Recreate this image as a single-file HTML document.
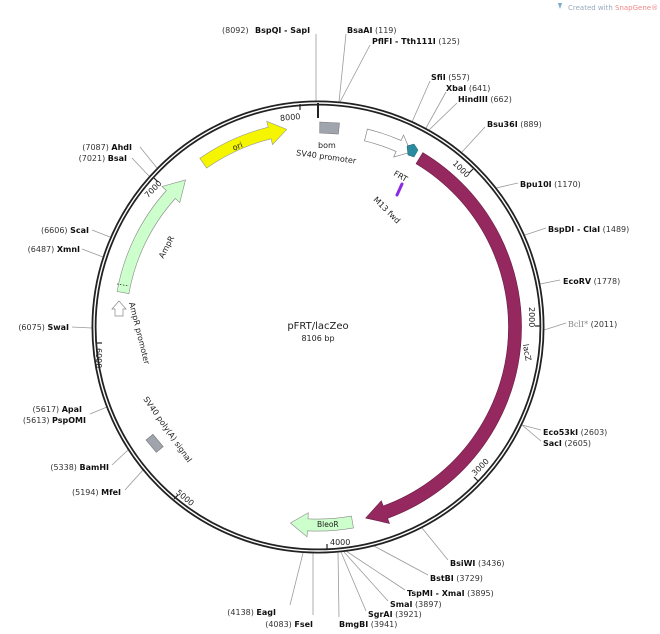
<!DOCTYPE html>
<html><head><meta charset="utf-8"><style>
html,body{margin:0;padding:0;background:#fff;width:660px;height:634px;overflow:hidden}
svg{display:block}
text{font-family:"DejaVu Sans","Liberation Sans",sans-serif;font-size:8px;fill:#222}
.n{font-weight:bold;fill:#111}
.p{fill:#333}
.ln{stroke:#999;stroke-width:0.8;fill:none}
</style></head><body>
<svg width="660" height="634" viewBox="0 0 660 634">
<text x="568" y="10" style="font-size:7px;fill:#9ab">Created with <tspan fill="#e88">SnapGene®</tspan></text>
<path d="M558 3 l4 0 l-2 6z" fill="#7ac"/>

<g class="ln">
<line x1="316" y1="101" x2="316" y2="34"/>
<line x1="339" y1="102" x2="346" y2="34"/>
<line x1="340" y1="102" x2="370" y2="45"/>
<line x1="412" y1="122" x2="430" y2="81"/>
<line x1="426" y1="128" x2="446" y2="92"/>
<line x1="429" y1="130" x2="457" y2="103"/>
<line x1="462" y1="152" x2="485" y2="127"/>
<line x1="496" y1="188" x2="518" y2="183"/>
<line x1="525" y1="235" x2="546" y2="228"/>
<line x1="540" y1="284" x2="560" y2="280"/>
<line x1="544" y1="330" x2="566" y2="323"/>
<line x1="522" y1="425" x2="541" y2="430"/>
<line x1="522" y1="425" x2="541" y2="441"/>
<line x1="422" y1="528" x2="448" y2="560"/>
<line x1="374" y1="546" x2="428" y2="575"/>
<line x1="346" y1="551" x2="405" y2="590"/>
<line x1="344" y1="552" x2="388" y2="601"/>
<line x1="341" y1="552" x2="366" y2="611"/>
<line x1="338" y1="552" x2="339" y2="617"/>
<line x1="313" y1="553" x2="313" y2="615"/>
<line x1="303" y1="553" x2="290" y2="605"/>
<line x1="143" y1="470" x2="125" y2="490"/>
<line x1="128" y1="450" x2="112" y2="465"/>
<line x1="107" y1="407" x2="90" y2="414"/>
<line x1="92" y1="328" x2="72" y2="327"/>
<line x1="103" y1="257" x2="82" y2="249"/>
<line x1="110" y1="237" x2="92" y2="230"/>
<line x1="149" y1="176" x2="132" y2="158"/>
<line x1="157" y1="168" x2="140" y2="147"/>
</g>

<circle cx="318" cy="327" r="224" fill="none" stroke="#222" stroke-width="5"/>
<circle cx="318" cy="327" r="224" fill="none" stroke="#fff" stroke-width="1.4"/>

<g stroke="#222" stroke-width="1.2">
<line x1="318" y1="103" x2="318" y2="118" stroke-width="2"/>
<line x1="473" y1="169" x2="469" y2="173"/>
<line x1="541" y1="326" x2="535" y2="326"/>
<line x1="478" y1="481" x2="474" y2="477"/>
<line x1="327" y1="550" x2="327" y2="544"/>
<line x1="174" y1="499" x2="178" y2="495"/>
<line x1="96" y1="343" x2="102" y2="343"/>
<line x1="154" y1="178" x2="158" y2="182"/>
<line x1="300" y1="104" x2="300" y2="110"/>
</g>
<text x="280" y="120" style="font-size:8px" transform="rotate(-5 290 117)">8000</text>
<text x="452" y="172" style="font-size:8px" transform="rotate(45 462 168)">1000</text>
<text x="524" y="318" style="font-size:8px" transform="rotate(90 532 315)">2000</text>
<text x="470" y="470" style="font-size:8px" transform="rotate(-45 480 467)">3000</text>
<text x="330" y="545" style="font-size:8px">4000</text>
<text x="176" y="500" style="font-size:8px" transform="rotate(40 185 496)">5000</text>
<text x="96" y="360" style="font-size:8px" transform="rotate(90 102 354)">6000</text>
<text x="142" y="194" style="font-size:8px" transform="rotate(-45 150 189)">7000</text>

<path d="M422.8 152.6 A203.5 203.5 0 0 1 387.6 518.3 L389.5 523.4 L365.7 518.1 L381.3 500.8 L383.2 506 A190.5 190.5 0 0 0 416.1 163.7 Z" fill="#95285f" stroke="#6a1a44" stroke-width="0.6"/>
<path d="M199.8 158.3 A206 206 0 0 1 268.2 127.2 L266.7 121.3 L286.8 129.4 L272.5 144.6 L271.1 138.8 A194 194 0 0 0 206.6 168.1 Z" fill="#f5f500" stroke="#999" stroke-width="0.6"/>
<path d="M117.1 291.5 A204 204 0 0 1 166.4 190.5 L162 186.5 L185.5 179.9 L179.8 202.6 L175.3 198.5 A192 192 0 0 0 128.9 293.6 Z" fill="#ccffcc" stroke="#888" stroke-width="0.6"/>
<line x1="117" y1="284" x2="129" y2="286" stroke="#333" stroke-width="0.8" stroke-dasharray="1.5 1.5"/>
<path d="M115 316 L115 309 L112 309 L119 301 L126 309 L123 309 L123 316 Z" fill="#fff" stroke="#888" stroke-width="0.7"/>
<path d="M367.4 129.1 A204 204 0 0 1 401 140.5 L403.5 135.1 L410.9 152.2 L393.7 157 L396.1 151.5 A192 192 0 0 0 364.5 140.8 Z" fill="#fff" stroke="#888" stroke-width="0.7"/>
<path d="M407 146 L414 144 L418 150 L414 157 L408 155 Z" fill="#2a8a9e" stroke="#1b5f6e" stroke-width="0.5"/>
<path d="M319.8 122 L339.5 123 L338.3 134 L319.7 133 Z" fill="#a0a4ac" stroke="#777" stroke-width="0.6"/>
<path d="M353.5 527.9 A204 204 0 0 1 307.4 530.8 L307 536.8 L290.4 523 L308.3 512.8 L308 518.8 A192 192 0 0 0 351.4 516.1 Z" fill="#ccffcc" stroke="#888" stroke-width="0.6"/>
<rect x="147" y="439" width="16" height="9" fill="#a0a4ac" stroke="#777" stroke-width="0.6" transform="rotate(50 155 443)"/>
<line x1="402" y1="184" x2="397" y2="195" stroke="#8a2be2" stroke-width="3" stroke-linecap="round"/>

<text x="232" y="148" transform="rotate(-22 240 145)">ori</text>
<text x="318" y="148">bom</text>
<text x="296" y="160" transform="rotate(8 330 157)">SV40 promoter</text>
<text x="393" y="175" transform="rotate(30 393 175)">FRT</text>
<text x="373" y="200" transform="rotate(45 373 200)">M13 fwd</text>
<text x="152" y="250" transform="rotate(-62 165 245)">AmpR</text>
<text x="129" y="303" transform="rotate(76 129 303)">AmpR promoter</text>
<text x="143" y="399" transform="rotate(55 143 399)">SV40 poly(A) signal</text>
<text x="509" y="343" transform="rotate(80 515 352)">lacZ</text>
<text x="317" y="527" style="font-size:7.5px">BleoR</text>

<text x="318" y="329" text-anchor="middle" style="font-size:10px">pFRT/lacZeo</text>
<text x="318" y="341" text-anchor="middle" style="font-size:8px">8106 bp</text>

<text x="222" y="33" class="p">(8092)</text><text x="255" y="33" class="n">BspQI - SapI</text>
<text x="347" y="33"><tspan class="n">BsaAI</tspan><tspan class="p">  (119)</tspan></text>
<text x="372" y="44"><tspan class="n">PflFI - Tth111I</tspan><tspan class="p">  (125)</tspan></text>
<text x="431" y="80"><tspan class="n">SfiI</tspan><tspan class="p">  (557)</tspan></text>
<text x="446" y="91"><tspan class="n">XbaI</tspan><tspan class="p">  (641)</tspan></text>
<text x="458" y="102"><tspan class="n">HindIII</tspan><tspan class="p">  (662)</tspan></text>
<text x="487" y="127"><tspan class="n">Bsu36I</tspan><tspan class="p">  (889)</tspan></text>
<text x="520" y="187"><tspan class="n">Bpu10I</tspan><tspan class="p">  (1170)</tspan></text>
<text x="548" y="232"><tspan class="n">BspDI - ClaI</tspan><tspan class="p">  (1489)</tspan></text>
<text x="563" y="284"><tspan class="n">EcoRV</tspan><tspan class="p">  (1778)</tspan></text>
<text x="568" y="327"><tspan style="font-family:'DejaVu Serif','Liberation Serif',serif;fill:#888">BclI*</tspan><tspan class="p">  (2011)</tspan></text>
<text x="543" y="435"><tspan class="n">Eco53kI</tspan><tspan class="p">  (2603)</tspan></text>
<text x="543" y="446"><tspan class="n">SacI</tspan><tspan class="p">  (2605)</tspan></text>
<text x="450" y="566"><tspan class="n">BsiWI</tspan><tspan class="p">  (3436)</tspan></text>
<text x="430" y="581"><tspan class="n">BstBI</tspan><tspan class="p">  (3729)</tspan></text>
<text x="407" y="596"><tspan class="n">TspMI - XmaI</tspan><tspan class="p">  (3895)</tspan></text>
<text x="390" y="607"><tspan class="n">SmaI</tspan><tspan class="p">  (3897)</tspan></text>
<text x="368" y="617"><tspan class="n">SgrAI</tspan><tspan class="p">  (3921)</tspan></text>
<text x="339" y="627"><tspan class="n">BmgBI</tspan><tspan class="p">  (3941)</tspan></text>
<text x="276" y="615" text-anchor="end"><tspan class="p">(4138)  </tspan><tspan class="n">EagI</tspan></text>
<text x="313" y="627" text-anchor="end"><tspan class="p">(4083)  </tspan><tspan class="n">FseI</tspan></text>
<text x="132" y="150" text-anchor="end"><tspan class="p">(7087)  </tspan><tspan class="n">AhdI</tspan></text>
<text x="127" y="161" text-anchor="end"><tspan class="p">(7021)  </tspan><tspan class="n">BsaI</tspan></text>
<text x="89" y="233" text-anchor="end"><tspan class="p">(6606)  </tspan><tspan class="n">ScaI</tspan></text>
<text x="80" y="252" text-anchor="end"><tspan class="p">(6487)  </tspan><tspan class="n">XmnI</tspan></text>
<text x="69" y="330" text-anchor="end"><tspan class="p">(6075)  </tspan><tspan class="n">SwaI</tspan></text>
<text x="82" y="412" text-anchor="end"><tspan class="p">(5617)  </tspan><tspan class="n">ApaI</tspan></text>
<text x="86" y="423" text-anchor="end"><tspan class="p">(5613)  </tspan><tspan class="n">PspOMI</tspan></text>
<text x="109" y="470" text-anchor="end"><tspan class="p">(5338)  </tspan><tspan class="n">BamHI</tspan></text>
<text x="121" y="495" text-anchor="end"><tspan class="p">(5194)  </tspan><tspan class="n">MfeI</tspan></text>
</svg>
</body></html>
